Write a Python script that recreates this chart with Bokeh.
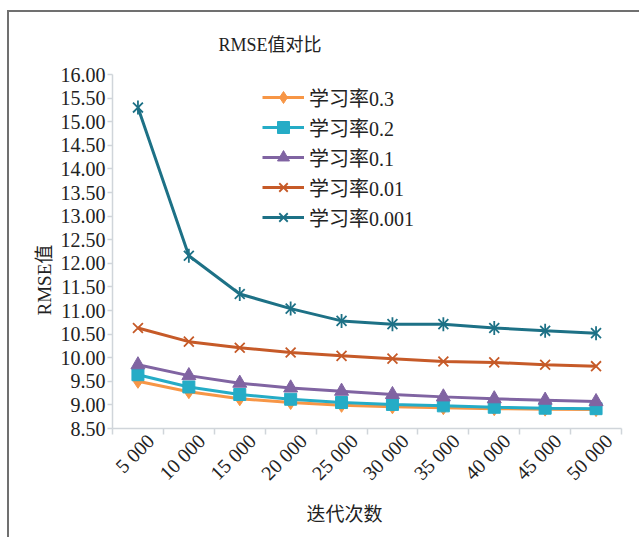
import math
from bokeh.plotting import figure
from bokeh.models import FixedTicker, Legend, LegendItem, Title, NumeralTickFormatter
from bokeh.embed import file_html
from bokeh.resources import INLINE

# Iteration counts (x categories) and RMSE per learning rate
iterations = ["5 000", "10 000", "15 000", "20 000", "25 000",
              "30 000", "35 000", "40 000", "45 000", "50 000"]
rmse_lr_0_3 = [9.50, 9.28, 9.13, 9.05, 8.99, 8.96, 8.94, 8.92, 8.91, 8.90]
rmse_lr_0_2 = [9.64, 9.38, 9.22, 9.12, 9.05, 9.01, 8.98, 8.95, 8.93, 8.92]
rmse_lr_0_1 = [9.85, 9.62, 9.46, 9.36, 9.29, 9.22, 9.17, 9.13, 9.10, 9.07]
rmse_lr_0_01 = [10.63, 10.34, 10.21, 10.11, 10.04, 9.98, 9.92, 9.90, 9.85, 9.82]
rmse_lr_0_001 = [15.30, 12.16, 11.35, 11.04, 10.78, 10.71, 10.71, 10.63, 10.57, 10.52]
y_ticks = [8.5, 9.0, 9.5, 10.0, 10.5, 11.0, 11.5, 12.0, 12.5, 13.0,
           13.5, 14.0, 14.5, 15.0, 15.5, 16.0]

SERIF = "Liberation Serif, Noto Sans CJK SC"
AXIS_GRAY = "#D0D5DA"
TEXT = "#222222"

xs = [i + 0.5 for i in range(len(iterations))]
# rotated labels end a little right of the category centre
label_pos = [x + 0.25 for x in xs]

p = figure(width=632, height=527, x_range=(0, len(iterations)), y_range=(8.5, 16.0),
           output_backend="svg", toolbar_location=None,
           min_border_left=103, min_border_right=20, min_border_top=62, min_border_bottom=111,
           margin=(10, 0, 0, 7),
           styles={"border-top": "2px solid #707070", "border-left": "2px solid #707070"})
p.title.visible = False
p.outline_line_color = None
p.xgrid.visible = False
p.ygrid.visible = False

# x axis: ticks between categories, labels near category centres
xa = p.xaxis[0]
xa.ticker = FixedTicker(ticks=label_pos, minor_ticks=list(range(len(iterations) + 1)))
xa.major_label_overrides = {x: lab for x, lab in zip(label_pos, iterations)}
xa.major_label_orientation = math.pi / 4
xa.major_tick_line_color = None
xa.minor_tick_in = 0
xa.minor_tick_out = 6
xa.minor_tick_line_color = AXIS_GRAY
xa.minor_tick_line_width = 1.5
xa.axis_line_color = AXIS_GRAY
xa.axis_line_width = 1.5
xa.major_label_text_font = SERIF
xa.major_label_text_font_size = "20px"
xa.major_label_text_color = TEXT
xa.major_label_standoff = 3

ya = p.yaxis[0]
ya.ticker = FixedTicker(ticks=y_ticks)
ya.formatter = NumeralTickFormatter(format="0.00")
ya.minor_tick_line_color = None
ya.major_tick_in = 0
ya.major_tick_out = 5
ya.major_tick_line_color = AXIS_GRAY
ya.major_tick_line_width = 1.5
ya.axis_line_color = AXIS_GRAY
ya.axis_line_width = 1.5
ya.major_label_text_font = SERIF
ya.major_label_text_font_size = "20px"
ya.major_label_text_color = TEXT
ya.major_label_standoff = 2

series = [
    ("学习率0.3", rmse_lr_0_3, "#F79646", "diamond", 14),
    ("学习率0.2", rmse_lr_0_2, "#25ACC6", "square", 12),
    ("学习率0.1", rmse_lr_0_1, "#8064A2", "triangle", 14),
    ("学习率0.01", rmse_lr_0_01, "#C65A28", "x", 14),
    ("学习率0.001", rmse_lr_0_001, "#1D7186", "x", 14),
]

items = []
for name, vals, color, marker, size in series:
    rs = [p.line(xs, vals, line_color=color, line_width=3)]
    if marker == "x":
        rs.append(p.scatter(xs, vals, marker="x", size=size, line_color=color, line_width=1.8))
        if name.endswith("0.001"):
            rs.append(p.scatter(xs, vals, marker="dash", angle=math.pi / 2, size=size,
                                line_color=color, line_width=1.8))
    else:
        rs.append(p.scatter(xs, vals, marker=marker, size=size, fill_color=color,
                            line_color=color))
    items.append(LegendItem(label=name, renderers=rs))

legend = Legend(items=items, location=(150, 196), orientation="vertical",
                padding=0, spacing=0, margin=0, label_height=30, glyph_height=30,
                glyph_width=42, label_standoff=5, border_line_color=None,
                background_fill_alpha=0, label_text_font=SERIF,
                label_text_font_size="20px", label_text_color=TEXT)
p.add_layout(legend)

# chart title and axis titles as side-panel titles
p.add_layout(Title(text="RMSE值对比", align="left", vertical_align="top", offset=106,
                   standoff=36, text_font=SERIF, text_font_size="18px",
                   text_font_style="normal", text_color=TEXT), "above")
p.add_layout(Title(text="迭代次数", align="left", offset=194, standoff=14,
                   text_font=SERIF, text_font_size="19px", text_font_style="normal",
                   text_color=TEXT), "below")
p.add_layout(Title(text="RMSE值", align="left", offset=113, standoff=5,
                   text_font=SERIF, text_font_size="19px", text_font_style="normal",
                   text_color=TEXT), "left")

open("out.html", "w").write(file_html(p, INLINE))
